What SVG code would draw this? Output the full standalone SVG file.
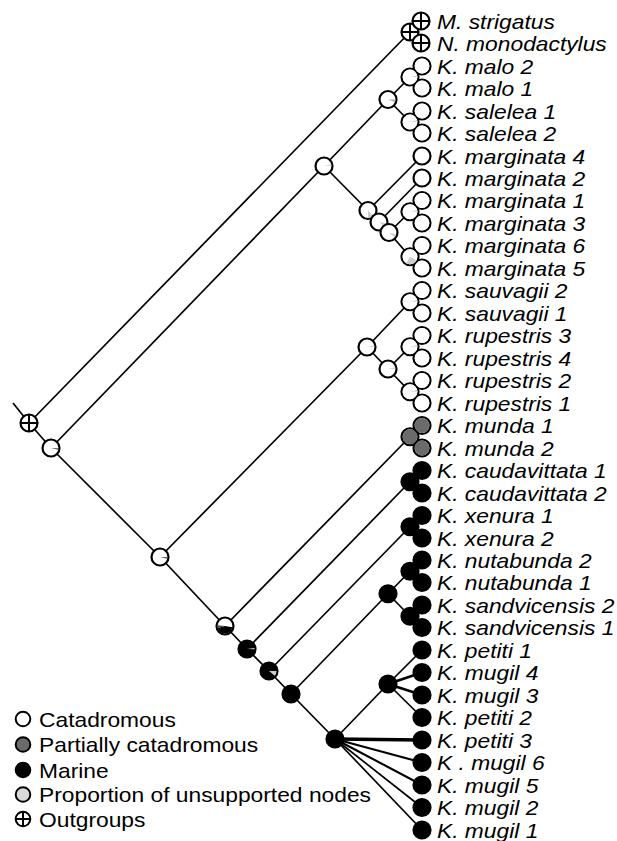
<svg xmlns="http://www.w3.org/2000/svg" xmlns:xlink="http://www.w3.org/1999/xlink" width="617" height="841" viewBox="0 0 617 841">
<style>
.e{stroke:#000;stroke-width:1.7;fill:none}
.o{fill:none;stroke:#000;stroke-width:2.2}
.fw{fill:#fff}
.fk{fill:#000}
.fg{fill:#6b6b6b}
.nw{fill:#fff;stroke:#000;stroke-width:2.2}
.nk{fill:#000;stroke:#000;stroke-width:2.2}
.x{stroke:#000;stroke-width:2}
.lgr{fill:#cdcdcd}
.dgr{fill:#4a4a4a}
.tl{font-family:"Liberation Sans",Arial,sans-serif;font-style:italic;font-size:20px;fill:#000}
.lt{font-family:"Liberation Sans",Arial,sans-serif;font-size:20px;fill:#000}
</style>
<defs>
<path id="slr" class="lgr" d="M0 0L7.28-1.81A7.5 7.5 0 0 1 7.5-0.26Z"/>
<path id="sld" class="dgr" d="M0 0L7.5 0.26A7.5 7.5 0 0 1 7.28 1.81Z"/>
</defs>
<rect width="617" height="841" fill="#fff"/>
<g id="connectors">
<line class="e" x1="13" y1="403" x2="29" y2="423"/>
<line class="e" x1="29" y1="423" x2="410" y2="32"/>
<line class="e" x1="29" y1="423" x2="51" y2="448"/>
<line class="e" x1="51" y1="448" x2="324" y2="166"/>
<line class="e" x1="324" y1="166" x2="388" y2="99.5"/>
<line class="e" x1="388" y1="99.5" x2="410" y2="77"/>
<line class="e" x1="388" y1="99.5" x2="410" y2="122"/>
<line class="e" x1="324" y1="166" x2="368" y2="210.5"/>
<line class="e" x1="368" y1="210.5" x2="422" y2="156"/>
<line class="e" x1="368" y1="210.5" x2="379" y2="222"/>
<line class="e" x1="379" y1="222" x2="422" y2="178"/>
<line class="e" x1="379" y1="222" x2="389" y2="232.5"/>
<line class="e" x1="389" y1="232.5" x2="410" y2="211.75"/>
<line class="e" x1="389" y1="232.5" x2="410" y2="256.75"/>
<line class="e" x1="51" y1="448" x2="160" y2="557"/>
<line class="e" x1="160" y1="557" x2="367" y2="347"/>
<line class="e" x1="367" y1="347" x2="410" y2="301.75"/>
<line class="e" x1="367" y1="347" x2="388" y2="369"/>
<line class="e" x1="388" y1="369" x2="410" y2="346.75"/>
<line class="e" x1="388" y1="369" x2="410" y2="391.75"/>
<line class="e" x1="160" y1="557" x2="225" y2="626"/>
<line class="e" x1="225" y1="626" x2="410" y2="436.75"/>
<line class="e" x1="225" y1="626" x2="247" y2="649"/>
<line class="e" x1="247" y1="649" x2="410" y2="481.75"/>
<line class="e" x1="247" y1="649" x2="269" y2="671"/>
<line class="e" x1="269" y1="671" x2="410" y2="526.75"/>
<line class="e" x1="269" y1="671" x2="291" y2="694"/>
<line class="e" x1="291" y1="694" x2="388" y2="593.75"/>
<line class="e" x1="388" y1="593.75" x2="410" y2="571.25"/>
<line class="e" x1="388" y1="593.75" x2="410" y2="616.25"/>
<line class="e" x1="291" y1="694" x2="335" y2="739"/>
<line class="e" x1="335" y1="739" x2="388" y2="684"/>
<line class="e" x1="388" y1="684" x2="422" y2="650"/>
<line class="e" x1="388" y1="684" x2="422" y2="672.5" style="stroke-width:2.6"/>
<line class="e" x1="388" y1="684" x2="422" y2="695" style="stroke-width:2.6"/>
<line class="e" x1="388" y1="684" x2="422" y2="717.5"/>
<line class="e" x1="335" y1="739" x2="422" y2="740" style="stroke-width:3.3"/>
<line class="e" x1="335" y1="739" x2="422" y2="762.5" style="stroke-width:2.1"/>
<line class="e" x1="335" y1="739" x2="422" y2="785" style="stroke-width:2.1"/>
<line class="e" x1="335" y1="739" x2="422" y2="807.5"/>
<line class="e" x1="335" y1="739" x2="422" y2="830"/>
</g>

<g id="node-root"><circle class="nw" cx="29" cy="423" r="8.5"/><line class="x" x1="20.5" y1="423" x2="37.5" y2="423"/><line class="x" x1="29" y1="414.5" x2="29" y2="431.5"/></g>
<g id="node-ingroup"><circle class="nw" cx="51" cy="448" r="8.5"/><use href="#sld" x="51" y="448"/></g>
<g id="node-catadromous-clade"><circle class="nw" cx="324" cy="166" r="8.5"/><use href="#slr" x="324" y="166"/></g>
<g id="node-malo-salelea"><circle class="nw" cx="388" cy="99.5" r="8.5"/><path class="lgr" d="M388 99.5L395.5 99.5A7.5 7.5 0 0 1 395.05 102.07Z" style="fill:#aaa"/></g>
<g id="node-marginata-a"><circle class="nw" cx="368" cy="210.5" r="8.5"/><path class="lgr" d="M368 210.5L373.3 215.8A7.5 7.5 0 0 1 368 218Z"/></g>
<g id="node-marginata-b"><circle class="nw" cx="379" cy="222" r="8.5"/><path class="lgr" d="M379 222L386.39 223.3A7.5 7.5 0 0 1 384.75 226.82Z"/></g>
<g id="node-marginata-c"><circle class="nw" cx="389" cy="232.5" r="8.5"/><path class="lgr" d="M389 232.5L396.24 234.44A7.5 7.5 0 0 1 394.75 237.32Z"/></g>
<g id="node-k-b"><circle class="nw" cx="160" cy="557" r="8.5"/><use href="#sld" x="160" y="557"/></g>
<g id="node-sauvagii-rupestris"><circle class="nw" cx="367" cy="347" r="8.5"/><use href="#slr" x="367" y="347"/></g>
<g id="node-rupestris"><circle class="nw" cx="388" cy="369" r="8.5"/><use href="#slr" x="388" y="369"/></g>
<g id="node-n1"><circle class="nw" cx="225" cy="626" r="8.5"/><path class="fk" d="M225 626L232.39 627.3A7.5 7.5 0 0 1 217.76 627.94Z"/><path class="dgr" d="M225 626L217.76 627.94A7.5 7.5 0 0 1 217.53 625.35Z"/></g>
<g id="node-n2"><circle class="nk" cx="247" cy="649" r="8.5"/><path class="lgr" d="M247 649L254.43 647.96A7.5 7.5 0 0 1 254.5 649.26Z" style="fill:#ddd"/></g>
<g id="node-n3"><circle class="nk" cx="269" cy="671" r="8.5"/><path class="lgr" d="M269 671L276.5 671A7.5 7.5 0 0 1 274.75 675.82Z"/></g>
<g id="node-n4"><circle class="nk" cx="291" cy="694" r="8.5"/></g>
<g id="node-n5"><circle class="nk" cx="335" cy="739" r="8.5"/></g>
<g id="node-nutabunda-sandvicensis"><circle class="nk" cx="388" cy="593.75" r="8.5"/></g>
<g id="node-petiti-mugil"><circle class="nk" cx="388" cy="684" r="8.5"/></g>

<g id="clade-outgroups">
<g id="node-outgroups"><circle class="nw" cx="410" cy="32" r="8.5"/><line class="x" x1="401.5" y1="32" x2="418.5" y2="32"/><line class="x" x1="410" y1="23.5" x2="410" y2="40.5"/></g>
<g id="tip-m-strigatus"><circle class="nw" cx="421" cy="21" r="8.5"/><line class="x" x1="412.5" y1="21" x2="429.5" y2="21"/><line class="x" x1="421" y1="12.5" x2="421" y2="29.5"/><text class="tl" transform="translate(437 28.5) scale(1.14 1)">M. strigatus</text></g>
<g id="tip-n-monodactylus"><circle class="nw" cx="421" cy="43" r="8.5"/><line class="x" x1="412.5" y1="43" x2="429.5" y2="43"/><line class="x" x1="421" y1="34.5" x2="421" y2="51.5"/><text class="tl" transform="translate(437 50.5) scale(1.14 1)">N. monodactylus</text></g>
</g>

<g id="clade-malo">
<circle class="o" cx="410" cy="77" r="8.5"/><circle class="o" cx="422" cy="66" r="8.5"/><circle class="o" cx="422" cy="88" r="8.5"/>
<g id="node-malo"><circle class="fw" cx="410" cy="77" r="7.4"/><use href="#slr" x="410" y="77"/></g>
<g id="tip-malo-2"><circle class="fw" cx="422" cy="66" r="7.4"/><text class="tl" transform="translate(437 73.5) scale(1.14 1)">K. malo 2</text></g>
<g id="tip-malo-1"><circle class="fw" cx="422" cy="88" r="7.4"/><text class="tl" transform="translate(437 95.5) scale(1.14 1)">K. malo 1</text></g>
</g>
<g id="clade-salelea">
<circle class="o" cx="410" cy="122" r="8.5"/><circle class="o" cx="422" cy="111" r="8.5"/><circle class="o" cx="422" cy="133" r="8.5"/>
<g id="node-salelea"><circle class="fw" cx="410" cy="122" r="7.4"/><use href="#slr" x="410" y="122"/></g>
<g id="tip-salelea-1"><circle class="fw" cx="422" cy="111" r="7.4"/><text class="tl" transform="translate(437 118.5) scale(1.14 1)">K. salelea 1</text></g>
<g id="tip-salelea-2"><circle class="fw" cx="422" cy="133" r="7.4"/><text class="tl" transform="translate(437 140.5) scale(1.14 1)">K. salelea 2</text></g>
</g>
<g id="tip-marginata-4"><circle class="nw" cx="422" cy="156" r="8.5"/><text class="tl" transform="translate(437 163.5) scale(1.14 1)">K. marginata 4</text></g>
<g id="tip-marginata-2"><circle class="nw" cx="422" cy="178" r="8.5"/><text class="tl" transform="translate(437 185.5) scale(1.14 1)">K. marginata 2</text></g>
<g id="clade-marginata-1-3">
<circle class="o" cx="410" cy="211.75" r="8.5"/><circle class="o" cx="422" cy="200.5" r="8.5"/><circle class="o" cx="422" cy="223" r="8.5"/>
<g id="node-marginata-1-3"><circle class="fw" cx="410" cy="211.75" r="7.4"/><use href="#slr" x="410" y="211.75"/></g>
<g id="tip-marginata-1"><circle class="fw" cx="422" cy="200.5" r="7.4"/><text class="tl" transform="translate(437 208) scale(1.14 1)">K. marginata 1</text></g>
<g id="tip-marginata-3"><circle class="fw" cx="422" cy="223" r="7.4"/><text class="tl" transform="translate(437 230.5) scale(1.14 1)">K. marginata 3</text></g>
</g>
<g id="clade-marginata-6-5">
<circle class="o" cx="410" cy="256.75" r="8.5"/><circle class="o" cx="422" cy="245.5" r="8.5"/><circle class="o" cx="422" cy="268" r="8.5"/>
<g id="node-marginata-6-5"><circle class="fw" cx="410" cy="256.75" r="7.4"/><path class="lgr" d="M410 256.75L416.5 260.5A7.5 7.5 0 0 1 406.25 263.25Z"/></g>
<g id="tip-marginata-6"><circle class="fw" cx="422" cy="245.5" r="7.4"/><text class="tl" transform="translate(437 253) scale(1.14 1)">K. marginata 6</text></g>
<g id="tip-marginata-5"><circle class="fw" cx="422" cy="268" r="7.4"/><text class="tl" transform="translate(437 275.5) scale(1.14 1)">K. marginata 5</text></g>
</g>
<g id="clade-sauvagii">
<circle class="o" cx="410" cy="301.75" r="8.5"/><circle class="o" cx="422" cy="290.5" r="8.5"/><circle class="o" cx="422" cy="313" r="8.5"/>
<g id="node-sauvagii"><circle class="fw" cx="410" cy="301.75" r="7.4"/><use href="#slr" x="410" y="301.75"/></g>
<g id="tip-sauvagii-2"><circle class="fw" cx="422" cy="290.5" r="7.4"/><text class="tl" transform="translate(437 298) scale(1.14 1)">K. sauvagii 2</text></g>
<g id="tip-sauvagii-1"><circle class="fw" cx="422" cy="313" r="7.4"/><text class="tl" transform="translate(437 320.5) scale(1.14 1)">K. sauvagii 1</text></g>
</g>
<g id="clade-rupestris-3-4">
<circle class="o" cx="410" cy="346.75" r="8.5"/><circle class="o" cx="422" cy="335.5" r="8.5"/><circle class="o" cx="422" cy="358" r="8.5"/>
<g id="node-rupestris-3-4"><circle class="fw" cx="410" cy="346.75" r="7.4"/><use href="#slr" x="410" y="346.75"/></g>
<g id="tip-rupestris-3"><circle class="fw" cx="422" cy="335.5" r="7.4"/><text class="tl" transform="translate(437 343) scale(1.14 1)">K. rupestris 3</text></g>
<g id="tip-rupestris-4"><circle class="fw" cx="422" cy="358" r="7.4"/><text class="tl" transform="translate(437 365.5) scale(1.14 1)">K. rupestris 4</text></g>
</g>
<g id="clade-rupestris-2-1">
<circle class="o" cx="410" cy="391.75" r="8.5"/><circle class="o" cx="422" cy="380.5" r="8.5"/><circle class="o" cx="422" cy="403" r="8.5"/>
<g id="node-rupestris-2-1"><circle class="fw" cx="410" cy="391.75" r="7.4"/><use href="#slr" x="410" y="391.75"/></g>
<g id="tip-rupestris-2"><circle class="fw" cx="422" cy="380.5" r="7.4"/><text class="tl" transform="translate(437 388) scale(1.14 1)">K. rupestris 2</text></g>
<g id="tip-rupestris-1"><circle class="fw" cx="422" cy="403" r="7.4"/><text class="tl" transform="translate(437 410.5) scale(1.14 1)">K. rupestris 1</text></g>
</g>
<g id="clade-munda">
<circle class="o" cx="410" cy="436.75" r="8.5"/><circle class="o" cx="422" cy="425.5" r="8.5"/><circle class="o" cx="422" cy="448" r="8.5"/>
<g id="node-munda"><circle class="fg" cx="410" cy="436.75" r="7.4"/></g>
<g id="tip-munda-1"><circle class="fg" cx="422" cy="425.5" r="7.4"/><text class="tl" transform="translate(437 433) scale(1.14 1)">K. munda 1</text></g>
<g id="tip-munda-2"><circle class="fg" cx="422" cy="448" r="7.4"/><text class="tl" transform="translate(437 455.5) scale(1.14 1)">K. munda 2</text></g>
</g>
<g id="clade-caudavittata">
<g id="node-caudavittata"><circle class="nk" cx="410" cy="481.75" r="8.5"/></g>
<g id="tip-caudavittata-1"><circle class="nk" cx="422" cy="470.5" r="8.5"/><text class="tl" transform="translate(437 478) scale(1.14 1)">K. caudavittata 1</text></g>
<g id="tip-caudavittata-2"><circle class="nk" cx="422" cy="493" r="8.5"/><text class="tl" transform="translate(437 500.5) scale(1.14 1)">K. caudavittata 2</text></g>
</g>
<g id="clade-xenura">
<g id="node-xenura"><circle class="nk" cx="410" cy="526.75" r="8.5"/></g>
<g id="tip-xenura-1"><circle class="nk" cx="422" cy="515.5" r="8.5"/><text class="tl" transform="translate(437 523) scale(1.14 1)">K. xenura 1</text></g>
<g id="tip-xenura-2"><circle class="nk" cx="422" cy="538" r="8.5"/><text class="tl" transform="translate(437 545.5) scale(1.14 1)">K. xenura 2</text></g>
</g>
<g id="clade-nutabunda">
<g id="node-nutabunda"><circle class="nk" cx="410" cy="571.25" r="8.5"/></g>
<g id="tip-nutabunda-2"><circle class="nk" cx="422" cy="560" r="8.5"/><text class="tl" transform="translate(437 567.5) scale(1.14 1)">K. nutabunda 2</text></g>
<g id="tip-nutabunda-1"><circle class="nk" cx="422" cy="582.5" r="8.5"/><text class="tl" transform="translate(437 590) scale(1.14 1)">K. nutabunda 1</text></g>
</g>
<g id="clade-sandvicensis">
<g id="node-sandvicensis"><circle class="nk" cx="410" cy="616.25" r="8.5"/></g>
<g id="tip-sandvicensis-2"><circle class="nk" cx="422" cy="605" r="8.5"/><text class="tl" transform="translate(437 612.5) scale(1.14 1)">K. sandvicensis 2</text></g>
<g id="tip-sandvicensis-1"><circle class="nk" cx="422" cy="627.5" r="8.5"/><text class="tl" transform="translate(437 635) scale(1.14 1)">K. sandvicensis 1</text></g>
</g>
<g id="tip-petiti-1"><circle class="nk" cx="422" cy="650" r="8.5"/><text class="tl" transform="translate(437 657.5) scale(1.14 1)">K. petiti 1</text></g>
<g id="tip-mugil-4"><circle class="nk" cx="422" cy="672.5" r="8.5"/><text class="tl" transform="translate(437 680) scale(1.14 1)">K. mugil 4</text></g>
<g id="tip-mugil-3"><circle class="nk" cx="422" cy="695" r="8.5"/><text class="tl" transform="translate(437 702.5) scale(1.14 1)">K. mugil 3</text></g>
<g id="tip-petiti-2"><circle class="nk" cx="422" cy="717.5" r="8.5"/><text class="tl" transform="translate(437 725) scale(1.14 1)">K. petiti 2</text></g>
<g id="tip-petiti-3"><circle class="nk" cx="422" cy="740" r="8.5"/><text class="tl" transform="translate(437 747.5) scale(1.14 1)">K. petiti 3</text></g>
<g id="tip-mugil-6"><circle class="nk" cx="422" cy="762.5" r="8.5"/><text class="tl" transform="translate(437 770) scale(1.14 1)">K . mugil 6</text></g>
<g id="tip-mugil-5"><circle class="nk" cx="422" cy="785" r="8.5"/><text class="tl" transform="translate(437 792.5) scale(1.14 1)">K. mugil 5</text></g>
<g id="tip-mugil-2"><circle class="nk" cx="422" cy="807.5" r="8.5"/><text class="tl" transform="translate(437 815) scale(1.14 1)">K. mugil 2</text></g>
<g id="tip-mugil-1"><circle class="nk" cx="422" cy="830" r="8.5"/><text class="tl" transform="translate(437 837.5) scale(1.14 1)">K. mugil 1</text></g>

<g id="legend">
<circle cx="23" cy="719" r="7.3" fill="#fff" stroke="#000" stroke-width="2"/>
<text class="lt" transform="translate(39 726.5) scale(1.14 1)">Catadromous</text>
<circle cx="23" cy="744.5" r="7.3" fill="#6b6b6b" stroke="#000" stroke-width="2"/>
<text class="lt" transform="translate(39 752) scale(1.14 1)">Partially catadromous</text>
<circle cx="23" cy="770" r="7.3" fill="#000" stroke="#000" stroke-width="2"/>
<text class="lt" transform="translate(39 777.5) scale(1.14 1)">Marine</text>
<circle cx="23" cy="794.5" r="7.3" fill="#d9d9d9" stroke="#000" stroke-width="2"/>
<text class="lt" transform="translate(39 802) scale(1.14 1)">Proportion of unsupported nodes</text>
<circle cx="23" cy="819" r="7.3" fill="#fff" stroke="#000" stroke-width="2"/>
<line class="x" x1="15.7" y1="819" x2="30.3" y2="819"/><line class="x" x1="23" y1="811.7" x2="23" y2="826.3"/>
<text class="lt" transform="translate(39 827) scale(1.14 1)">Outgroups</text>
</g>
</svg>
